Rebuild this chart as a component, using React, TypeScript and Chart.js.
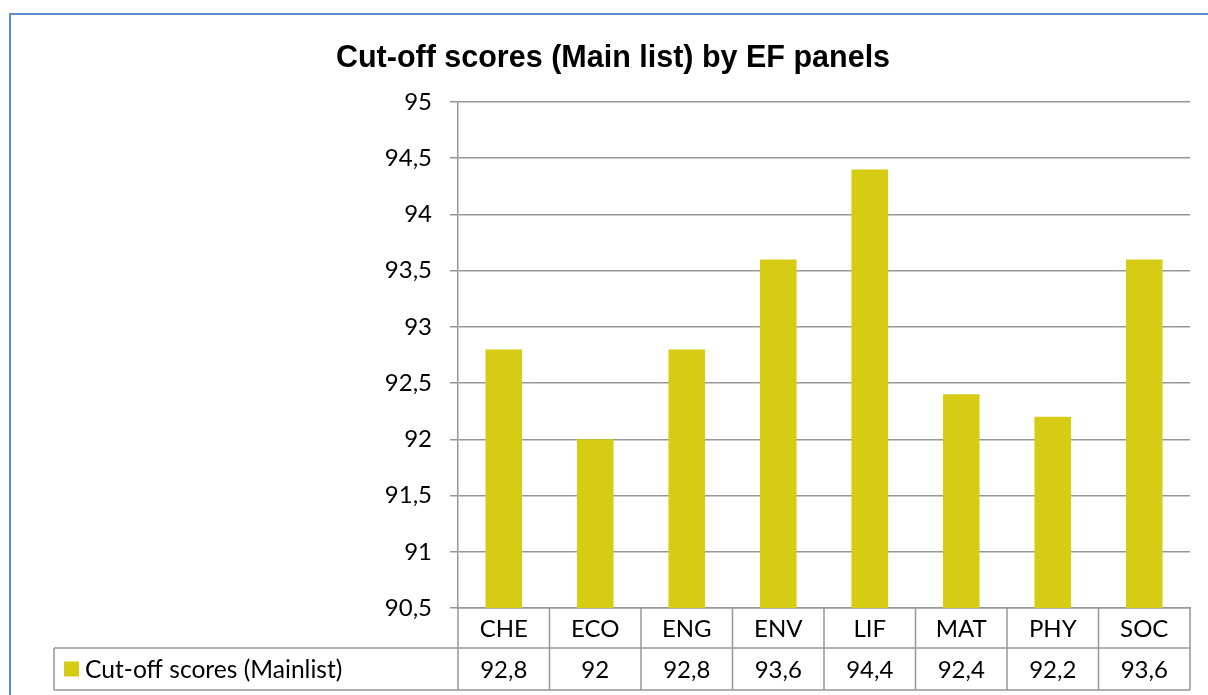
import React, { useEffect, useRef } from 'react';
import { Chart, registerables } from 'chart.js';

Chart.register(...registerables);

// ---- Data ----
const titleText = 'Cut-off scores (Main list) by EF panels';
const seriesLabel = 'Cut-off scores (Mainlist)';
const categories = ['CHE', 'ECO', 'ENG', 'ENV', 'LIF', 'MAT', 'PHY', 'SOC'];
const values = [92.8, 92, 92.8, 93.6, 94.4, 92.4, 92.2, 93.6];
const yMin = 90.5;
const yMax = 95;
const yStep = 0.5;

// ---- Styles ----
const BAR_COLOR = '#D6CC14';
const LINE_COLOR = '#979797';
const BORDER_BLUE = '#5F8CC9';
const BODY_FONT = 'Lato';
const BODY_SIZE = 24;
const TITLE_FONT = 'Liberation Sans';
const TITLE_SIZE = 30.5;

const fmt = (v: number) => String(v).replace('.', ',');

const dataTablePlugin = {
  id: 'dataTable',
  afterDraw(chart: any) {
    const { ctx, chartArea } = chart;
    const xs = chart.scales.x;
    const data: number[] = chart.data.datasets[0].data;
    const labels: string[] = chart.data.labels;
    const n = labels.length;
    const cw = (chartArea.right - chartArea.left) / n;
    const top = chartArea.bottom;
    const r1 = top + 40;
    const r2 = r1 + 42;
    const legendLeft = 54;

    ctx.save();
    ctx.strokeStyle = LINE_COLOR;
    ctx.lineWidth = 1.5;
    ctx.beginPath();
    for (let i = 0; i <= n; i++) {
      const x = chartArea.left + i * cw;
      ctx.moveTo(x, top);
      ctx.lineTo(x, r2);
    }
    ctx.moveTo(legendLeft, r1);
    ctx.lineTo(chartArea.right, r1);
    ctx.moveTo(legendLeft, r2);
    ctx.lineTo(chartArea.right, r2);
    ctx.moveTo(legendLeft, r1);
    ctx.lineTo(legendLeft, r2);
    ctx.stroke();

    ctx.fillStyle = '#000';
    ctx.font = `${BODY_SIZE}px ${BODY_FONT}`;
    ctx.textAlign = 'center';
    ctx.textBaseline = 'middle';
    labels.forEach((c, i) => {
      const cx = xs.getPixelForValue(i);
      ctx.fillText(c, cx, (top + r1) / 2 + 1);
      ctx.fillText(fmt(data[i]), cx, (r1 + r2) / 2 + 1);
    });

    const my = (r1 + r2) / 2;
    ctx.fillStyle = BAR_COLOR;
    ctx.fillRect(legendLeft + 10, my - 7.5, 15, 15);
    ctx.fillStyle = '#000';
    ctx.font = `${BODY_SIZE + 0.6}px ${BODY_FONT}`;
    ctx.textAlign = 'left';
    ctx.fillText(chart.data.datasets[0].label, legendLeft + 31, my + 1);
    ctx.restore();
  },
};

export default function App() {
  const canvasRef = useRef<HTMLCanvasElement | null>(null);

  useEffect(() => {
    const canvas = canvasRef.current;
    if (!canvas) return;
    const chart = new Chart(canvas, {
      type: 'bar',
      data: {
        labels: categories,
        datasets: [
          {
            label: seriesLabel,
            data: values,
            backgroundColor: BAR_COLOR,
            borderWidth: 0,
            barPercentage: 0.4,
            categoryPercentage: 1,
          },
        ],
      },
      options: {
        animation: false,
        responsive: false,
        devicePixelRatio: 1,
        layout: { padding: { left: 36, right: 18, top: 0, bottom: 0 } },
        plugins: {
          legend: { display: false },
          tooltip: { enabled: false },
          title: {
            display: true,
            text: titleText,
            color: '#000',
            font: { family: TITLE_FONT, size: TITLE_SIZE, weight: 'bold', lineHeight: 1.2 },
            padding: { top: 40, bottom: 25.4 },
          },
        },
        scales: {
          x: {
            ticks: { display: false },
            grid: { display: false },
            border: { display: true, color: LINE_COLOR, width: 1.5 },
            afterFit: (scale: any) => {
              scale.height = 87;
            },
          },
          y: {
            min: yMin,
            max: yMax,
            ticks: {
              stepSize: yStep,
              padding: 18,
              color: '#000',
              font: { family: BODY_FONT, size: BODY_SIZE },
              callback: (v: any) => fmt(Number(v)),
            },
            grid: {
              color: LINE_COLOR,
              lineWidth: 1.5,
              tickLength: 8,
              drawTicks: true,
            },
            border: { display: true, color: LINE_COLOR, width: 1.5 },
            afterFit: (scale: any) => {
              scale.width = 422;
            },
          },
        },
      },
      plugins: [dataTablePlugin],
    });
    return () => chart.destroy();
  }, []);

  return (
    <div
      style={{
        position: 'absolute',
        left: 0,
        top: 0,
        width: 1208,
        height: 695,
        overflow: 'hidden',
        background: '#fff',
      }}
    >
      <div
        style={{
          position: 'absolute',
          left: 9,
          top: 13,
          width: 1400,
          height: 900,
          border: `2px solid ${BORDER_BLUE}`,
        }}
      />
      <canvas
        ref={canvasRef}
        width={1208}
        height={695}
        style={{ position: 'absolute', left: 0, top: 0, width: 1208, height: 695 }}
      />
    </div>
  );
}
